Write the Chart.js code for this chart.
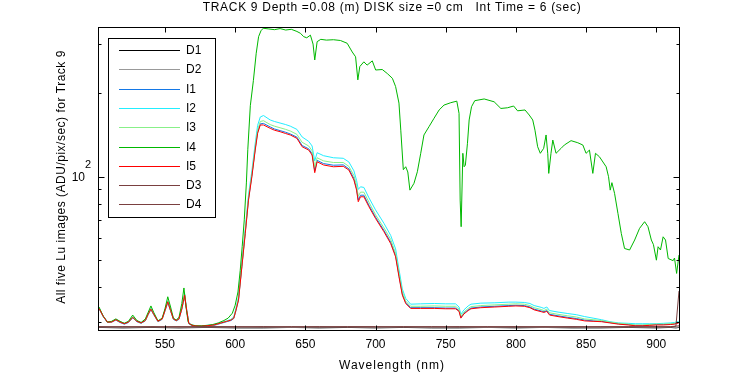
<!DOCTYPE html>
<html>
<head>
<meta charset="utf-8">
<script src="https://cdn.jsdelivr.net/npm/chart.js@4.4.1/dist/chart.umd.min.js"></script>
<style>
  html, body { margin: 0; padding: 0; background: #fff; }
  #wrap { width: 750px; height: 375px; }
</style>
</head>
<body>
<div id="wrap"><canvas id="spec" width="750" height="375"></canvas></div>
<script>
const chartTitle = 'TRACK 9 Depth =0.08 (m) DISK size =0 cm   Int Time = 6 (sec)';
const xTitle = 'Wavelength (nm)';
const yTitle = 'All five Lu images (ADU/pix/sec) for Track 9';

const xTicks = [550, 600, 650, 700, 750, 800, 850, 900];
const yMajor = [100];
const yMinor = [30, 40, 50, 60, 70, 80, 90, 200, 300];

const seriesNames = ['D1', 'D2', 'I1', 'I2', 'I3', 'I4', 'I5', 'D3', 'D4'];
const seriesColors = ['#000000', '#999999', '#1478e6', '#22eeff', '#88f088', '#00b800', '#ff0000', '#7a4040', '#7a4040'];

// dark frames, coarse grid
const wlDark = [503, 520, 540, 560, 580, 600, 620, 640, 660, 680, 700, 720, 740, 760, 780, 800, 820, 840, 860, 880, 900, 910, 914, 916.2];
const d1 = [28.7, 28.6, 28.7, 28.6, 28.7, 28.6, 28.6, 28.7, 28.6, 28.7, 28.6, 28.7, 28.6, 28.6, 28.7, 28.6, 28.7, 28.6, 28.6, 28.7, 28.6, 28.7, 28.6, 28.7];
const d2 = [28.8, 28.7, 28.8, 28.7, 28.8, 28.7, 28.8, 28.7, 28.8, 28.8, 28.7, 28.8, 28.7, 28.8, 28.7, 28.8, 28.7, 28.8, 28.7, 28.8, 28.7, 28.8, 28.7, 28.8];
const d3 = [28.9, 28.8, 28.9, 28.8, 28.9, 28.9, 28.8, 28.9, 28.8, 28.9, 28.9, 28.8, 28.9, 28.8, 28.9, 28.8, 28.9, 28.8, 28.9, 28.9, 28.8, 28.9, 29.0, 29.1];
const d4 = [28.8, 28.9, 28.8, 28.9, 28.8, 28.8, 28.9, 28.8, 28.9, 28.8, 28.8, 28.9, 28.8, 28.9, 28.8, 28.9, 28.8, 28.9, 28.8, 28.8, 28.9, 28.8, 29.0, 38.8];

// lit images I1, I2, I3, I5 share this grid
const wlLow = [503, 506, 509, 512, 515, 518, 521, 524, 527, 530,
  533, 536, 538, 540, 542, 545, 548, 550, 552, 554,
  556, 558, 560, 562, 564, 565.5, 567, 570, 575, 580,
  585, 590, 594, 597, 599, 600.5, 602.4, 604.8, 607.2, 609.5,
  611.9, 614.3, 616, 617.9, 620.2, 625, 628, 632, 636, 639.3,
  644, 647.7, 652.4, 654.8, 656.7, 658.4, 663, 670, 677, 681,
  684.6, 686.5, 687.7, 689.3, 691.7, 695.3, 700, 706, 710.8, 714.3,
  716.7, 719.1, 721.5, 725, 732, 742, 750, 757, 759.5, 760.8,
  763, 766, 768, 775, 785, 795, 800, 806, 810, 813,
  818, 820, 822, 824, 830, 837, 843, 849, 855, 861,
  867, 873, 880, 885, 890, 895, 900, 905, 910, 913, 916];

const i1 = [33.5, 31.4, 29.9, 30.0, 30.5, 29.9, 29.5, 29.9, 31.1, 30.1,
  29.7, 30.3, 31.9, 33.3, 31.9, 30.1, 30.7, 32.9, 35.3, 32.9,
  30.7, 30.3, 30.7, 33.4, 37.3, 32.9, 29.6, 29.0, 28.9, 29.0,
  29.2, 29.7, 30.1, 30.4, 30.9, 32.9, 36.2, 47.8, 63, 83,
  101, 126, 145, 155, 155.5, 151, 148.5, 146.5, 144.5, 142.5,
  138.8, 129.5, 126, 121, 105, 114.5, 111.5, 110, 110.3, 106.8,
  98.5, 90.5, 82.5, 85.8, 85.8, 79, 71.6, 64.1, 58.2, 52.1,
  44.2, 37.9, 35.3, 33.8, 33.8, 33.8, 33.7, 33.7, 33.0, 31.2,
  32.3, 33.2, 33.7, 34.0, 34.2, 34.4, 34.5, 34.4, 34.0, 33.4,
  32.9, 32.7, 33.0, 32.0, 31.6, 31.2, 30.9, 30.5, 30.3, 30.2,
  29.9, 29.6, 29.4, 29.2, 29.2, 29.3, 29.4, 29.4, 29.5, 29.6, 29.9];

const i2 = [33.8, 31.6, 30.1, 30.1, 30.7, 30.1, 29.7, 30.1, 31.3, 30.3,
  29.9, 30.5, 32.1, 33.6, 32.1, 30.3, 30.9, 33.2, 35.8, 33.2,
  30.9, 30.5, 30.9, 33.7, 37.9, 33.2, 29.8, 29.2, 29.1, 29.2,
  29.4, 29.9, 30.3, 30.7, 31.3, 33.5, 37, 49, 65, 86,
  105, 132, 153, 164, 166, 160, 158, 156, 154, 152,
  148, 139, 134, 129, 114, 122, 119, 117, 116.5, 113,
  105, 97, 90, 92, 91.5, 84, 76, 68, 61.5, 55,
  46.5, 39.5, 36.5, 34.8, 34.9, 35.0, 34.9, 34.9, 34.0, 32.0,
  33.2, 34.3, 34.8, 35.1, 35.2, 35.4, 35.4, 35.3, 35.0, 34.4,
  33.9, 33.6, 34.0, 33.0, 32.6, 32.2, 31.9, 31.4, 31.0, 30.6,
  30.1, 29.8, 29.7, 29.6, 29.6, 29.6, 29.6, 29.7, 29.8, 29.9, 30.2];

const i3 = [33.7, 31.5, 30.0, 30.1, 30.6, 30.0, 29.7, 30.0, 31.3, 30.2,
  29.8, 30.4, 32.0, 33.5, 32.0, 30.2, 30.8, 33.1, 35.6, 33.1,
  30.8, 30.4, 30.8, 33.6, 37.7, 33.1, 29.7, 29.1, 29.0, 29.1,
  29.3, 29.8, 30.2, 30.6, 31.1, 33.2, 36.5, 48, 63.5, 84,
  102, 128, 147, 158, 159, 154, 152, 150, 148, 146,
  142, 133, 129, 124, 108, 117, 114, 112.5, 112.5, 109,
  101, 93, 85, 88, 88, 81, 73, 65.5, 59.5, 53,
  45, 38.5, 35.7, 34.2, 34.2, 34.3, 34.2, 34.2, 33.4, 31.5,
  32.6, 33.6, 34.1, 34.4, 34.6, 34.8, 34.9, 34.8, 34.4, 33.8,
  33.3, 33.0, 33.4, 32.4, 32.0, 31.6, 31.3, 30.8, 30.6, 30.4,
  30.0, 29.7, 29.5, 29.3, 29.3, 29.4, 29.5, 29.5, 29.6, 29.7, 30.0];

const i5 = [33.6, 31.5, 30.0, 30.0, 30.6, 30.0, 29.6, 30.0, 31.2, 30.2,
  29.8, 30.4, 32.0, 33.4, 32.0, 30.2, 30.8, 33.0, 35.5, 33.0,
  30.8, 30.4, 30.8, 33.5, 37.5, 33.0, 29.7, 29.1, 29.0, 29.1,
  29.3, 29.8, 30.2, 30.5, 31.0, 33.0, 36.0, 47.5, 62.5, 82.4,
  100, 124.7, 143.2, 153.5, 153.5, 149.3, 147, 145.2, 143, 141.3,
  137.4, 128.2, 124.7, 119.7, 103.4, 113.2, 110.2, 108.6, 109, 105.7,
  97.3, 89.5, 81.3, 84.7, 84.7, 78, 70.8, 63.4, 57.5, 51.5,
  43.7, 37.5, 35, 33.6, 33.6, 33.6, 33.5, 33.5, 32.8, 31.0,
  32.1, 33.0, 33.5, 33.8, 34.0, 34.2, 34.3, 34.2, 33.8, 33.2,
  32.7, 32.5, 32.8, 31.8, 31.4, 31.0, 30.7, 30.3, 30.2, 30.1,
  29.8, 29.5, 29.3, 29.1, 29.1, 29.2, 29.3, 29.3, 29.4, 29.5, 29.8];

// I4 has its own, finer grid
const wlI4 = [503, 506, 509, 512, 515, 518, 521, 524, 527, 530,
  533, 536, 538, 540, 542, 545, 548, 550, 552, 554,
  556, 558, 560, 562, 563.5, 565, 566.5, 568, 572, 576,
  580, 584, 588, 592, 595, 598, 600, 602, 603.6, 605,
  606.5, 608, 609, 610.8, 613, 615, 616.7, 618.4, 620, 624,
  628, 632, 636, 640, 644, 646.5, 648.8, 651, 653.6, 655.5,
  656.7, 658.4, 661, 665, 670, 675, 679.8, 683.4, 685.8, 687.4,
  688.8, 691.7, 694, 697.7, 700.1, 704.8, 708.4, 712, 714.3, 716.7,
  718, 719.8, 721.5, 723, 724.5, 727.4, 729.8, 732.2, 734.5, 738.1,
  741.7, 745.3, 748.8, 753.6, 757.9, 759.5, 760.3, 761, 762.2, 763.1,
  764, 765.5, 766.7, 768.4, 770.7, 777.4, 784.5, 789.3, 794, 798.4,
  801.2, 806.5, 809.5, 812, 813.6, 815.5, 817.4, 819.8, 821.5, 822.7,
  823.4, 825, 826.3, 828.6, 832.2, 834.5, 839.3, 844.1, 847.7, 850,
  852.4, 854.8, 856.7, 859.5, 864.3, 866, 867.2, 868.4, 870.3, 872.7,
  875.1, 877.4, 881, 884.6, 888.1, 891.7, 894.1, 896.5, 898, 900.1,
  901.3, 903, 904.9, 906.6, 908.5, 912, 913, 914.5, 916.2];

const i4 = [34.0, 31.5, 30.0, 30.2, 30.8, 30.2, 29.7, 30.2, 31.8, 30.4,
  29.9, 30.8, 32.5, 34.3, 32.5, 30.3, 31.0, 33.5, 37.0, 34.0,
  31.0, 30.5, 31.2, 35.0, 39.8, 34.0, 30.0, 29.4, 29.1, 29.1,
  29.2, 29.4, 29.8, 30.4, 31.0, 32.3, 34.5, 38.5, 46, 56,
  70, 95, 125, 180, 222, 278, 319, 335, 342, 340,
  338, 341, 337, 339, 333, 328, 319, 316, 323, 300,
  263, 306, 312, 310, 311, 309, 302, 281, 270, 223,
  249, 259, 252, 261, 242, 243, 235, 226, 211, 184,
  147, 106, 108.6, 104, 89.5, 94.7, 104.2, 121.4, 141.3, 151.4,
  162.3, 173.8, 181, 184.6, 187, 169, 82.4, 66.1, 121.4, 108.6,
  110, 131.9, 160, 178.6, 187.7, 190.4, 186, 176, 177, 179.6,
  172.6, 173.8, 166.7, 160, 147, 128.2, 121.4, 126.5, 141.3, 121,
  102.8, 121.4, 135.5, 121.4, 126.5, 130, 134.8, 132.5, 130, 121.4,
  124.7, 102.8, 121.4, 118, 108.6, 100, 89.5, 95.2, 87.1, 73.8,
  62.5, 55.2, 54.5, 59.2, 65.2, 68.9, 66.1, 59.2, 57, 50.1,
  56, 54.5, 60.8, 59.2, 50.8, 49.9, 51, 44.9, 52.3];

const seriesX = [wlDark, wlDark, wlLow, wlLow, wlLow, wlI4, wlLow, wlDark, wlDark];
const seriesY = [d1, d2, i1, i2, i3, i4, i5, d3, d4];

const FONT = '"Liberation Sans", Arial, sans-serif';

function toPoints(xs, ys) {
  return xs.map((x, i) => ({ x: x, y: ys[i] }));
}

const frame = {
  id: 'frame',
  beforeDraw(chart) {
    const ctx = chart.ctx;
    ctx.save();
    ctx.fillStyle = '#fff';
    ctx.fillRect(0, 0, chart.width, chart.height);
    ctx.restore();
  },
  afterDraw(chart) {
    const ctx = chart.ctx;
    const a = chart.chartArea;
    const xs = chart.scales.x;
    const ys = chart.scales.y;
    const L = Math.round(a.left) - 0.5, R = Math.round(a.right) + 0.5;
    const T = Math.round(a.top) - 0.5, B = Math.round(a.bottom) + 0.5;

    ctx.save();
    ctx.strokeStyle = '#000';
    ctx.lineWidth = 1;
    ctx.strokeRect(L, T, R - L, B - T);

    ctx.beginPath();
    xTicks.forEach(v => {
      const px = Math.round(xs.getPixelForValue(v)) + 0.5;
      ctx.moveTo(px, B); ctx.lineTo(px, B - 5);
      ctx.moveTo(px, T); ctx.lineTo(px, T + 5);
    });
    yMajor.forEach(v => {
      const py = Math.round(ys.getPixelForValue(v)) + 0.5;
      ctx.moveTo(L, py); ctx.lineTo(L + 6, py);
      ctx.moveTo(R, py); ctx.lineTo(R - 6, py);
    });
    yMinor.forEach(v => {
      const py = Math.round(ys.getPixelForValue(v)) + 0.5;
      ctx.moveTo(L, py); ctx.lineTo(L + 3, py);
      ctx.moveTo(R, py); ctx.lineTo(R - 3, py);
    });
    ctx.stroke();

    ctx.fillStyle = '#000';
    ctx.font = '12px ' + FONT;
    ctx.textAlign = 'center';
    ctx.textBaseline = 'middle';
    xTicks.forEach(v => ctx.fillText(String(v), xs.getPixelForValue(v), 345));

    // 10^2 label
    yMajor.forEach(v => {
      const py = ys.getPixelForValue(v);
      ctx.textAlign = 'right';
      ctx.font = '12px ' + FONT;
      ctx.fillText('10', 85, py + 1);
      ctx.textAlign = 'left';
      ctx.font = '11px ' + FONT;
      ctx.fillText(String(Math.round(Math.log10(v))), 85, py - 12);
    });

    ctx.font = '12px ' + FONT;
    ctx.textAlign = 'center';
    ctx.letterSpacing = '0.7px';
    ctx.fillText(chartTitle, 392, 8);
    ctx.letterSpacing = '1px';
    ctx.fillText(xTitle, 392, 366);
    ctx.letterSpacing = '0.5px';
    ctx.save();
    ctx.translate(62, 177);
    ctx.rotate(-Math.PI / 2);
    ctx.fillText(yTitle, 0, 0);
    ctx.restore();
    ctx.letterSpacing = '0px';

    // legend box
    const bx = 108.5, by = 38.5, bw = 107, bh = 179;
    ctx.fillStyle = '#fff';
    ctx.fillRect(bx, by, bw, bh);
    ctx.strokeRect(bx, by, bw, bh);
    ctx.textAlign = 'left';
    chart.data.datasets.forEach((ds, i) => {
      const ry = Math.round(50 + i * 19.3) + 0.5;
      ctx.strokeStyle = ds.borderColor;
      ctx.beginPath();
      ctx.moveTo(119, ry); ctx.lineTo(180, ry);
      ctx.stroke();
      ctx.fillStyle = '#000';
      ctx.fillText(ds.label, 186, ry);
    });
    ctx.restore();
  }
};

new Chart(document.getElementById('spec'), {
  type: 'line',
  data: {
    datasets: seriesNames.map((name, i) => ({
      label: name,
      data: toPoints(seriesX[i], seriesY[i]),
      borderColor: seriesColors[i],
      borderWidth: 1,
      pointRadius: 0,
      tension: 0,
      order: seriesNames.length - i
    }))
  },
  options: {
    responsive: false,
    devicePixelRatio: 1,
    animation: false,
    events: [],
    layout: { padding: { left: 99, right: 71, top: 28, bottom: 45 } },
    plugins: { legend: { display: false }, title: { display: false }, tooltip: { enabled: false } },
    scales: {
      x: { type: 'linear', min: 503, max: 916.2, display: false },
      y: { type: 'logarithmic', min: 28.1, max: 342.7, display: false }
    }
  },
  plugins: [frame]
});
</script>
</body>
</html>
